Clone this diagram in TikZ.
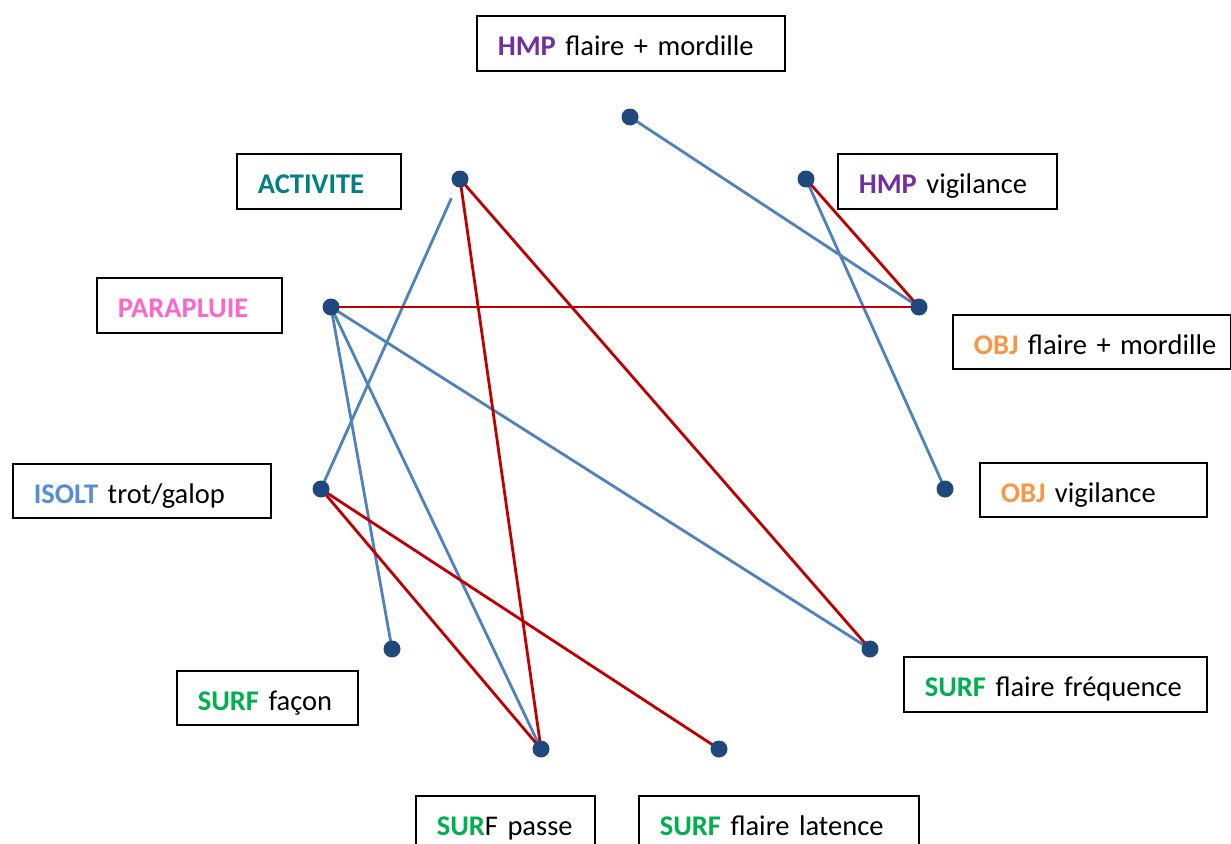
\documentclass[tikz,border=0pt]{standalone}
\usepackage{fontspec}
\setmainfont{Carlito}
\definecolor{hmpc}{HTML}{7030A0}
\definecolor{actc}{HTML}{008080}
\definecolor{parac}{HTML}{FF66CC}
\definecolor{objc}{HTML}{F79646}
\definecolor{isoc}{HTML}{558ED5}
\definecolor{surfc}{HTML}{00B050}
\definecolor{linkblue}{HTML}{4F81BD}
\definecolor{linkred}{HTML}{C00000}
\definecolor{dotc}{HTML}{1F497D}
\tikzset{
  lbl/.style={draw=black, line width=1.6pt, rectangle, anchor=north west,
    inner xsep=21pt, inner ysep=0pt, align=left, text height=25pt, text depth=0pt,
    font=\fontsize{28.5}{34}\selectfont},
  dot/.style={circle, fill=dotc, inner sep=0pt, minimum size=17pt},
  bl/.style={draw=linkblue, line width=2.8pt},
  rd/.style={draw=linkred, line width=2.8pt},
}
% label box: name, x, y, width, height, text width, text
\newcommand{\lbox}[7]{%
  \node[lbl, minimum width=#4pt, minimum height=#5pt, text width=#6pt] (#1) at (#2,#3) {\mbox{#7}};}
\begin{document}
\begin{tikzpicture}[x=1pt,y=-1pt]
\useasboundingbox[fill=white] (0,0) rectangle (1231,843);

% labels
\lbox{lhmpf}{476}{15}{308}{55}{266}{\textbf{\textcolor{hmpc}{HMP}} flaire + mordille}
\lbox{lact}{236}{153}{164}{55}{122}{\textbf{\textcolor{actc}{ACTIVITE}}}
\lbox{lhmpv}{837}{153}{219}{55}{177}{\textbf{\textcolor{hmpc}{HMP}} vigilance}
\lbox{lpara}{96}{277}{185}{55}{143}{\textbf{\textcolor{parac}{PARAPLUIE}}}
\lbox{lobjf}{952}{314}{278}{54}{236}{\textbf{\textcolor{objc}{OBJ}} flaire + mordille}
\lbox{liso}{12}{463}{258}{54}{216}{\textbf{\textcolor{isoc}{ISOLT}} trot/galop}
\lbox{lobjv}{979}{462}{227}{54}{185}{\textbf{\textcolor{objc}{OBJ}} vigilance}
\lbox{lfacon}{176}{670}{181}{54}{139}{\textbf{\textcolor{surfc}{SURF}} façon}
\lbox{lfreq}{903}{656}{303}{55}{261}{\textbf{\textcolor{surfc}{SURF}} flaire fréquence}
\lbox{lpasse}{415}{795}{179}{55}{137}{\textbf{\textcolor{surfc}{SUR}}F passe}
\lbox{llat}{638}{795}{280}{55}{238}{\textbf{\textcolor{surfc}{SURF}} flaire latence}

% points on the circle
\coordinate (hmpf) at (630,117);
\coordinate (act) at (460,179);
\coordinate (hmpv) at (806,179);
\coordinate (para) at (331,307);
\coordinate (objf) at (919,307);
\coordinate (iso) at (321,489);
\coordinate (objv) at (945,489);
\coordinate (facon) at (392,649);
\coordinate (freq) at (870,649);
\coordinate (passe) at (541,749);
\coordinate (lat) at (719,749);

% blue links
\draw[bl] (hmpf) -- (objf);
\draw[bl] (hmpv) -- (objv);
\draw[bl, shorten >=21pt] (iso) -- (act);
\draw[bl] (para) -- (facon);
\draw[bl] (para) -- (passe);
\draw[bl] (para) -- (freq);

% red links
\draw[rd] (hmpv) -- (objf);
\draw[rd] (para) -- (objf);
\draw[rd] (act) -- (passe);
\draw[rd] (act) -- (freq);
\draw[rd] (iso) -- (passe);
\draw[rd] (iso) -- (lat);

% dots
\foreach \p in {hmpf,act,hmpv,para,objf,iso,objv,facon,freq,passe,lat}
  \node[dot] (d\p) at (\p) {};
\end{tikzpicture}
\end{document}
